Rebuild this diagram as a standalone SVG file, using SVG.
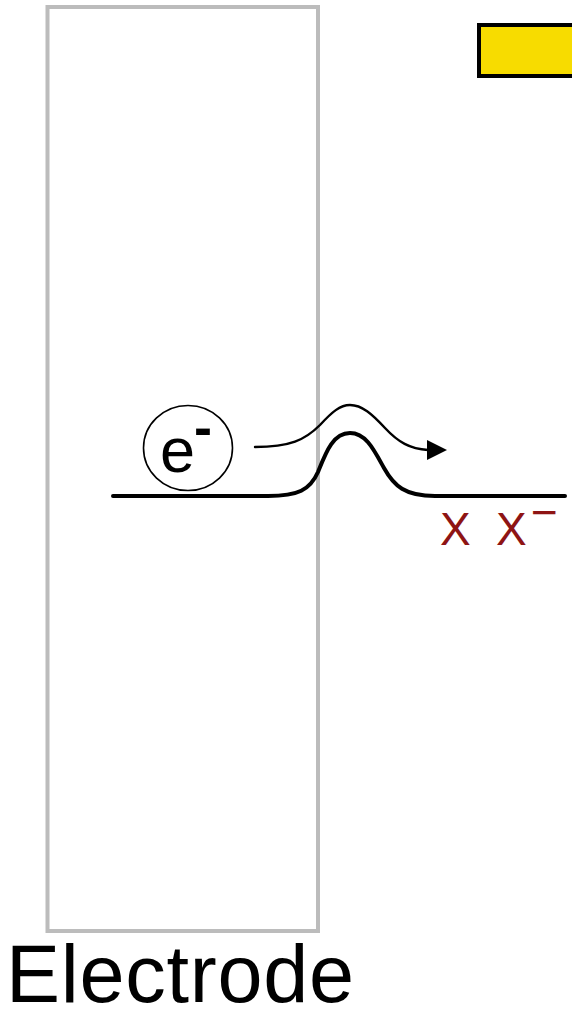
<svg xmlns="http://www.w3.org/2000/svg" width="572" height="1009" viewBox="0 0 572 1009">
<style>
.lbl{font-family:"Liberation Sans",Arial,sans-serif;}
.red{fill:#8e1414;}
.curve{fill:none;stroke:#000;stroke-linecap:round;stroke-linejoin:round;}
</style>
<rect width="572" height="1009" fill="#fff"/>
<g id="electrode">
<rect x="47.5" y="7" width="270.5" height="924" fill="none" stroke="#bcbcbc" stroke-width="4"/>
<text class="lbl" x="6" y="1002" font-size="81" textLength="348" lengthAdjust="spacing" fill="#000">Electrode</text>
</g>
<g id="solution-box">
<rect x="479" y="25" width="110" height="51" fill="#f7dc00" stroke="#000" stroke-width="4"/>
</g>
<g id="electron">
<ellipse cx="188" cy="448" rx="44.5" ry="42.5" fill="#fff" stroke="#000" stroke-width="1.6"/>
<text class="lbl" x="160" y="472" font-size="63" fill="#000">e<tspan x="194" y="446" font-size="54" font-weight="bold">-</tspan></text>
</g>
<g id="barrier">
<path class="curve" stroke-width="4" d="M113,496 L268,496 C298,496 310,490 318,472 C326,452 333,433 350,433 C366,433 374,450 384,468 C394,486 405,496 435,496 L565,496"/>
</g>
<g id="connectors">
<path class="curve" stroke-width="2.4" d="M255,447 C290,447 305,440 320,425 C332,412 340,405 350,405 C362,405 372,414 385,428 C398,442 410,449 428,450"/>
<polygon points="427,440 447,450 427,460" fill="#000"/>
</g>
<g id="species">
<text class="lbl red" x="440" y="545" font-size="46">X</text>
<text class="lbl red" x="496" y="545" font-size="46">X<tspan x="531" y="528" font-size="46">−</tspan></text>
</g>
</svg>
